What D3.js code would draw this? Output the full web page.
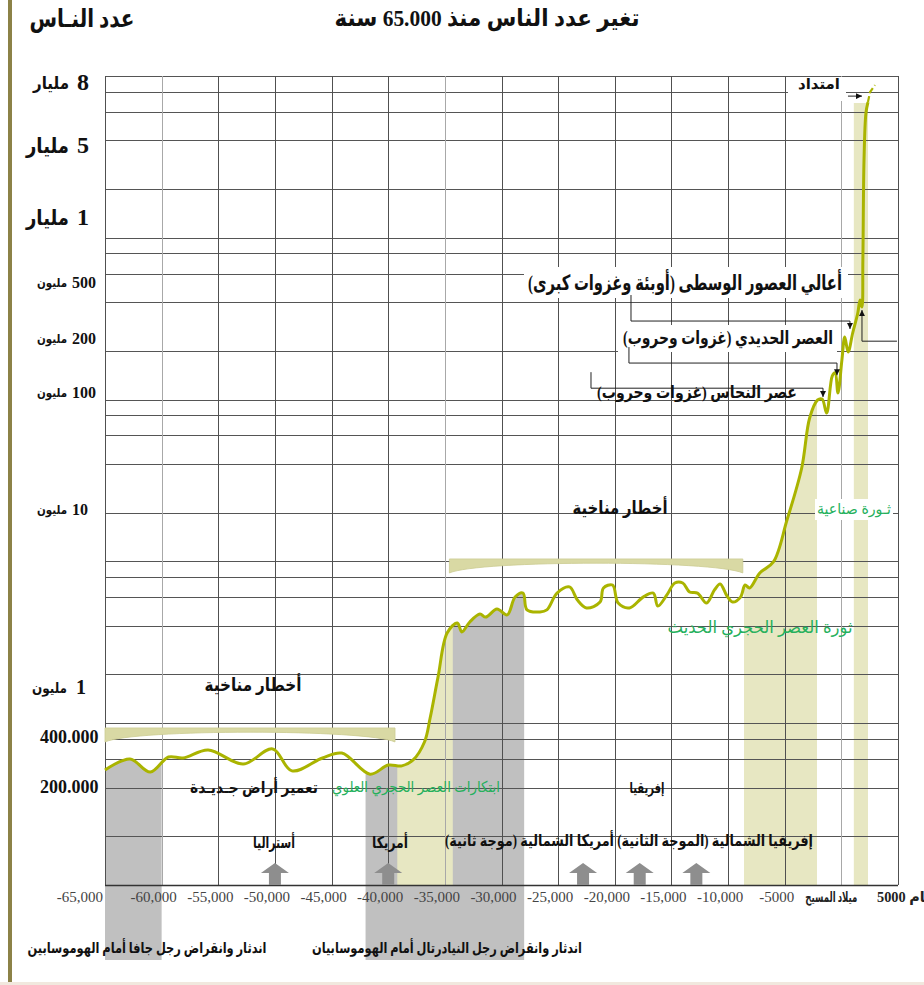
<!DOCTYPE html>
<html><head><meta charset="utf-8">
<script src="https://cdn.jsdelivr.net/npm/d3@7"></script>
<style>
body{margin:0;background:#fff;}
svg{display:block;}
</style></head><body>
<svg id="chart" width="924" height="985"></svg>
<script>
// ---------- DATA ----------
const years = [-65000,-62800,-61000,-59400,-58100,-55900,-52800,-50200,-48500,-45800,-44100,-41600,-40000,-38800,-37800,-36800,-36300,-35600,-34800,-33900,-33500,-32800,-31900,-31400,-30400,-29500,-28800,-28100,-27750,-26600,-26000,-25100,-24000,-23300,-22500,-21300,-21000,-20200,-19700,-18700,-17500,-16600,-16200,-15400,-14700,-14000,-13400,-12700,-11900,-11200,-10700,-10100,-9600,-8900,-8500,-8100,-7200,-6000,-4800,-3500,-2800,-2100,-1700,-1300,-800,-550,-300,50,300,600,1000,1450,1650,1820,1900,2000,2170,2350];
const popMillions = [0.253,0.295,0.246,0.303,0.299,0.334,0.275,0.339,0.250,0.299,0.320,0.239,0.271,0.268,0.291,0.373,0.566,1.14,2.01,2.29,2.04,2.32,2.57,2.47,2.74,2.54,3.20,3.37,2.71,2.64,2.71,3.37,3.65,3.08,2.78,3.00,3.60,3.74,2.96,2.78,3.20,3.37,2.85,3.29,3.84,3.84,3.42,3.37,2.96,3.51,3.79,3.25,3.00,3.20,3.74,3.60,4.37,5.04,8.67,22.4,60,85.4,87,66,123,128,98,151,203,167,217,301,373,332,632,3580,6350,6890];
const projYears = [2350, 2530, 2970];
const projPopMillions = [6890, 7420, 7820];

const xTickValues = [-65000,-60000,-55000,-50000,-45000,-40000,-35000,-30000,-25000,-20000,-15000,-10000,-5000,0,5000];
const xTickLabels = ["-65,000","-60,000","-55,000","-50,000","-45,000","-40,000","-35,000","-30,000","-25,000","-20,000","-15,000","-10,000","-5000","ميلاد المسيح","عام 5000"];
const lightGridYears = [-60000, -35000, 0];

const yTickValues = [2e5, 4e5, 1e6, 1e7, 1e8, 2e8, 5e8, 1e9, 5e9, 8e9];
const yTickNumbers = ["200.000","400.000","1","10","100","200","500","1","5","8"];
const yTickUnits = ["","","مليون","مليون","مليون","مليون","مليون","مليار","مليار","مليار"];

const grayBands = [[-65000,-60000],[-42000,-28000]];
const yellowBands = [[-39200,-34300],[-8600,-2150]];
const industrialBand = [1100, 2350];
const industrialTopMillions = 6840;

const climateBrackets = [
  {from:-65000, to:-39400, topMillions:0.472},
  {from:-34600, to:-8700, topMillions:5.24}
];
const migrationArrowYears = [-50000,-40000,-22800,-17800,-12800];

// connectors: [year, population in millions]
const connectorMedieval = [[-18570,404],[-18570,264],[761,264],[761,232]];
const connectorIron = [[-18750,178],[-18750,145],[-386,145],[-386,124]];
const connectorCopper = [[-22100,129],[-22100,105],[-1620,105],[-1620,90.6]];
const connectorPlague = [[4910,192],[1820,192],[1820,316]];
const connectorExtension = [[585,7200],[1820,7200]];

// ---------- SETUP ----------
const W = 924, H = 985;
const plotTop = 76, plotBottom = 885, bandBottom = 960;
const FONT = "'Liberation Serif','DejaVu Sans',serif";
const svg = d3.select("#chart");
const defs = svg.append("defs");

const x = d3.scaleLinear().domain([-65000, 5000]).range([105, 898]);
const y = d3.scaleLog()
  .domain([5e4,2e5,4e5,1e6,1e7,1e8,2e8,5e8,1e9,5e9,8e9])
  .range([887,787,737,687,509,392,338,282,217,145,82]);
const gridY = d3.scaleLog().domain([1,1e5]).range([plotBottom, plotTop]);

const pts = years.map((yr,i)=>({year:yr, pop:popMillions[i]*1e6}));
const proj = projYears.map((yr,i)=>({year:yr, pop:projPopMillions[i]*1e6}));
const curve = d3.curveCatmullRom.alpha(0.5);

// frame decorations
svg.append("rect").attr("x",8).attr("y",0).attr("width",4).attr("height",983).attr("fill","#8c8247");
svg.append("rect").attr("x",0).attr("y",982).attr("width",W).attr("height",3).attr("fill","#f1e8de");

// ---------- BANDS ----------
function bandArea(range, bottom, fill, id){
  defs.append("clipPath").attr("id",id).append("rect")
    .attr("x", x(range[0])).attr("y",0)
    .attr("width", x(range[1]) - x(range[0])).attr("height", H);
  const a = d3.area().x(d=>x(d.year)).y0(bottom).y1(d=>y(d.pop)).curve(curve);
  svg.append("path").attr("d", a(pts)).attr("fill", fill).attr("clip-path",`url(#${id})`);
}
grayBands.forEach((b,i)=>bandArea(b, bandBottom, "#c0c0c0", "cg"+i));
yellowBands.forEach((b,i)=>bandArea(b, plotBottom, "#e7e7c2", "cy"+i));
svg.append("rect")
  .attr("x", x(industrialBand[0])).attr("y", y(industrialTopMillions*1e6))
  .attr("width", x(industrialBand[1]) - x(industrialBand[0]))
  .attr("height", plotBottom - y(industrialTopMillions*1e6))
  .attr("fill","#e7e7c2");

// ---------- GRID ----------
const gridVals = [];
for (let e=0; e<5; e++) [1,2,4,6,8].forEach(k=>{ const v=k*Math.pow(10,e); if (v>1) gridVals.push(v); });
gridVals.push(1e5);
const g = svg.append("g");
g.selectAll("line.h").data(gridVals).join("line")
  .attr("x1", x(-65000)).attr("x2", x(5000))
  .attr("y1", d=>Math.round(gridY(d))+0.5).attr("y2", d=>Math.round(gridY(d))+0.5)
  .attr("stroke","#555").attr("stroke-width",1);
g.selectAll("line.v").data(xTickValues).join("line")
  .attr("x1", d=>Math.round(x(d))+0.5).attr("x2", d=>Math.round(x(d))+0.5)
  .attr("y1", plotTop).attr("y2", plotBottom)
  .attr("stroke", d=>lightGridYears.includes(d) ? "#a8a8a8" : "#505050").attr("stroke-width",1);

// white boxes behind some labels
[[788,77,58,24],[524,267,324,31],[618,325,219,27],[815,499,78,21]].forEach(r=>{
  svg.append("rect").attr("x",r[0]).attr("y",r[1]).attr("width",r[2]).attr("height",r[3]).attr("fill","#fff");
});

// ---------- CLIMATE BRACKETS ----------
climateBrackets.forEach(b=>{
  const x0 = x(b.from), x1 = x(b.to), t = y(b.topMillions*1e6), w = x1-x0;
  const p = d3.path();
  p.moveTo(x0, t); p.lineTo(x1, t); p.lineTo(x1, t+14);
  p.bezierCurveTo(x1-0.1*w, t+1, x0+0.1*w, t+1, x0, t+14);
  p.closePath();
  svg.append("path").attr("d", p.toString()).attr("fill","#d9d9a4").attr("stroke","#cbcb92").attr("stroke-width",0.8);
});

// ---------- AXIS ----------
svg.append("line").attr("x1",x(-65000)).attr("x2",x(5000)).attr("y1",plotBottom+0.5).attr("y2",plotBottom+0.5)
  .attr("stroke","#333").attr("stroke-width",1.3);

// migration arrows
migrationArrowYears.forEach(yr=>{
  const cx = x(yr), b = plotBottom;
  svg.append("path")
    .attr("d", `M${cx-6},${b} L${cx-6},${b-12} L${cx-14},${b-12} L${cx},${b-22} L${cx+14},${b-12} L${cx+6},${b-12} L${cx+6},${b} Z`)
    .attr("fill","#8e8e8e");
});

// ---------- CURVE ----------
const line = d3.line().x(d=>x(d.year)).y(d=>y(d.pop)).curve(curve);
svg.append("path").attr("d", line(pts)).attr("fill","none").attr("stroke","#aab400").attr("stroke-width",3).attr("stroke-linejoin","round");
svg.append("path").attr("d", d3.line().x(d=>x(d.year)).y(d=>y(d.pop))(proj)).attr("fill","none")
  .attr("stroke","#aab400").attr("stroke-width",2.2).attr("stroke-dasharray","6,3");

// ---------- CONNECTORS ----------
defs.append("marker").attr("id","arr").attr("viewBox","0 0 6 6").attr("refX",6).attr("refY",3)
  .attr("markerWidth",6).attr("markerHeight",6).attr("markerUnits","userSpaceOnUse").attr("orient","auto")
  .append("path").attr("d","M0,0 L6,3 L0,6 Z").attr("fill","#111");
const cLine = d3.line().x(d=>x(d[0])).y(d=>y(d[1]*1e6));
[connectorMedieval, connectorIron, connectorCopper, connectorPlague, connectorExtension].forEach(c=>{
  svg.append("path").attr("d", cLine(c)).attr("fill","none").attr("stroke","#222").attr("stroke-width",1).attr("marker-end","url(#arr)");
});

// ---------- TEXT ----------
function arText(str, cx, cy, size, width, opts={}){
  const t = svg.append("text").attr("x",cx).attr("y",cy)
    .attr("text-anchor","middle").attr("dominant-baseline","central")
    .attr("direction","rtl").style("direction","rtl")
    .attr("font-family",FONT).attr("font-size",size)
    .attr("font-weight", opts.weight || "bold")
    .attr("fill", opts.fill || "#111").text(str);
  if (width) t.attr("textLength",width).attr("lengthAdjust","spacingAndGlyphs");
  return t;
}

// x tick labels
xTickValues.forEach((v,i)=>{
  const lab = xTickLabels[i];
  const isAr = /[\u0600-\u06FF]/.test(lab);
  if (isAr) {
    const last = i === xTickValues.length-1;
    arText(lab, last ? x(v)+8 : x(v)-10, 897, 14, last ? 58 : 52, {weight:"bold", fill:"#222"});
  } else {
    svg.append("text").attr("x", i===0 ? x(v)-2 : x(v)-8).attr("y",897)
      .attr("text-anchor", i===0 ? "end" : "middle").attr("dominant-baseline","central")
      .attr("font-family",FONT).attr("font-size",15).attr("fill","#444").text(lab);
  }
});

// y tick labels
yTickValues.forEach((v,i)=>{
  const cy = y(v), num = yTickNumbers[i], unit = yTickUnits[i];
  const numText = (xx, size, anchor)=>svg.append("text").attr("x",xx).attr("y",cy)
      .attr("text-anchor",anchor).attr("dominant-baseline","central")
      .attr("font-family",FONT).attr("font-weight","bold").attr("font-size",size).attr("fill","#111").text(num);
  if (!unit) {
    numText(40, 18, "start");
  } else if (unit === "مليار") {
    numText(77, 24, "start");
    svg.append("text").attr("x",69).attr("y",cy+1).attr("text-anchor","end").attr("dominant-baseline","central")
      .attr("font-family",FONT).attr("font-weight","bold").attr("font-size", v===8e9 ? 17 : 21)
      .attr("textLength", v===8e9 ? 36 : 43).attr("lengthAdjust","spacingAndGlyphs").attr("fill","#111").text(unit);
  } else {
    const big = v===1e6;
    numText(big ? 76 : 72, big ? 20 : 16, "start");
    svg.append("text").attr("x",67).attr("y",cy+1).attr("text-anchor","end").attr("dominant-baseline","central")
      .attr("font-family",FONT).attr("font-weight","bold").attr("font-size", big ? 14 : 12)
      .attr("textLength", big ? 35 : 30).attr("lengthAdjust","spacingAndGlyphs").attr("fill","#111").text(unit);
  }
});

// titles
arText("تغير عدد الناس منذ 65.000 سنة", 487, 18, 24, 305);
arText("عدد النـاس", 82, 18, 25, 105);

// annotations
arText("امتداد", 819, 84, 15, 42);
arText("أعالي العصور الوسطى (أوبئة وغزوات كبرى)", 685, 283, 21, 314);
arText("العصر الحديدي (غزوات وحروب)", 728, 338, 18, 210);
arText("عصر النحاس (غزوات وحروب)", 697, 392, 17, 200);
arText("أخطار مناخية", 620, 508, 18, 95);
arText("أخطار مناخية", 253, 685, 18, 97);
arText("ثـورة صناعية", 854, 509, 15, 74, {weight:"normal", fill:"#25b05c"});
arText("ثورة العصر الحجري الحديث", 760, 627, 17, 185, {weight:"normal", fill:"#25b05c"});
arText("تعمير أراض جـديـدة", 254, 787, 16, 128);
arText("ابتكارات العصر الحجري العلوي", 416, 787, 15, 168, {weight:"normal", fill:"#25b05c"});
arText("إفريقيا", 647, 788, 15, 35);
arText("أستراليا", 274, 842, 16, 42);
arText("أمريكا", 390, 842, 16, 36);
arText("إفريقيا الشمالية (الموجة الثانية) أمريكا الشمالية (موجة ثانية)", 629, 840, 16, 368);
arText("اندثار وانقراض رجل جافا أمام الهوموسابين", 147, 948, 15, 239);
arText("اندثار وانقراض رجل النيادرتال أمام الهوموسابيان", 447, 948, 15, 270);
</script>
</body></html>
